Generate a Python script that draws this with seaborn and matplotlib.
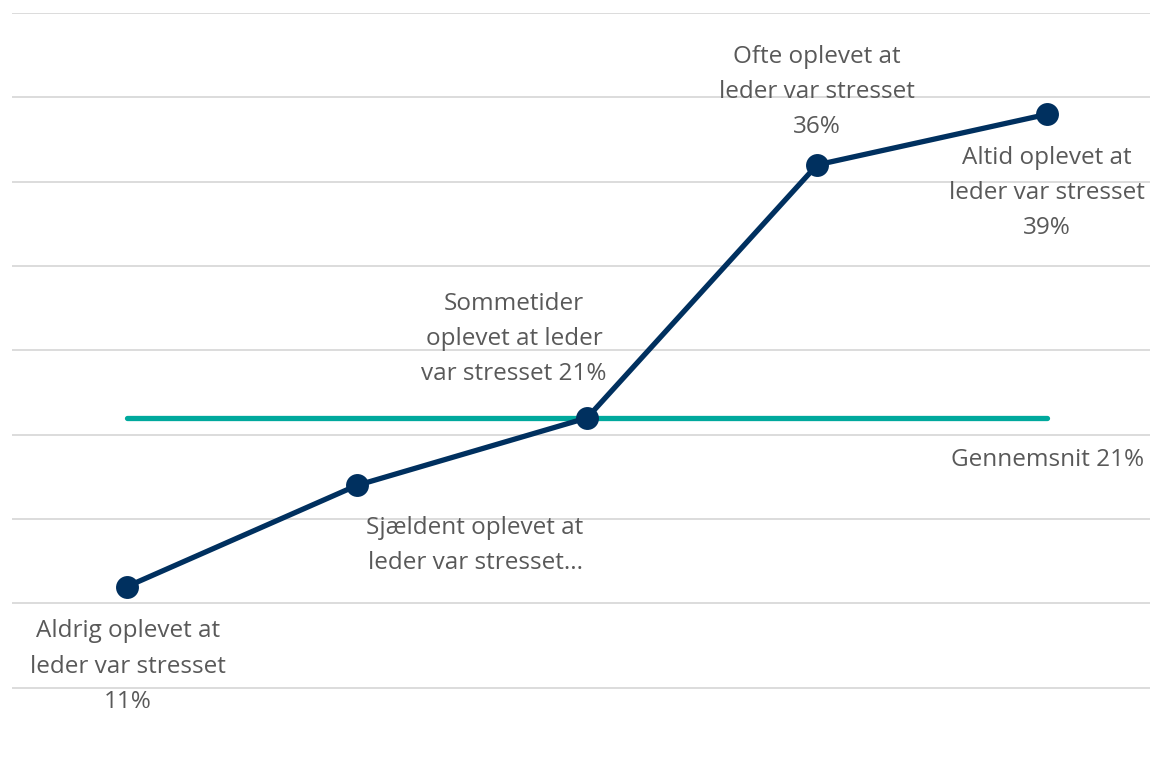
import seaborn as sns
import matplotlib.pyplot as plt
import pandas as pd

categories = ["Aldrig", "Sjældent", "Sommetider", "Ofte", "Altid"]
values = [11, 17, 21, 36, 39]
average = 21
point_labels = [
    "Aldrig oplevet at\nleder var stresset\n11%",
    "Sjældent oplevet at\nleder var stresset...",
    "Sommetider\noplevet at leder\nvar stresset 21%",
    "Ofte oplevet at\nleder var stresset\n36%",
    "Altid oplevet at\nleder var stresset\n39%",
]
avg_label = "Gennemsnit 21%"

# label offsets in pixels (dx, dy) relative to each point
label_offsets = [(1, -80), (118, -60), (-73, 79), (0, 73), (0, -79)]

NAVY = "#00305f"
TEAL = "#00a99d"
GREY = "#595959"

df = pd.DataFrame({"pos": range(len(categories)), "category": categories, "value": values})
avg_df = pd.DataFrame({"pos": [0, len(categories) - 1], "value": [average, average]})

sns.set_style("white")
plt.rcParams["font.family"] = ["Open Sans", "DejaVu Sans"]

fig = plt.figure(figsize=(11.5, 7.69), dpi=100)
ax = fig.add_axes([12 / 1150, -0.004, 1138 / 1150, 0.987])

sns.lineplot(data=avg_df, x="pos", y="value", color=TEAL, linewidth=3.8, ax=ax, zorder=2)
sns.lineplot(data=df, x="pos", y="value", color=NAVY, linewidth=3.8, marker="o",
             markersize=16.5, markeredgewidth=0, ax=ax, zorder=3)

for i, (lab, (dx, dy)) in enumerate(zip(point_labels, label_offsets)):
    ax.annotate(lab, (df["pos"][i], df["value"][i]), xytext=(dx, dy),
                textcoords="offset pixels", ha="center", va="center",
                fontsize=17.5, color=GREY, linespacing=1.62)

ax.annotate(avg_label, (avg_df["pos"].iloc[-1], average), xytext=(0, -42),
            textcoords="offset pixels", ha="center", va="center",
            fontsize=17.5, color=GREY)

ax.set_xlim(-0.5, 4.447)
ax.set_ylim(0, 45)
ax.set_yticks(range(5, 50, 5))
ax.yaxis.grid(True, color="#d9d9d9", linewidth=1.3)
ax.set_axisbelow(True)
ax.set_xticks([])
ax.tick_params(left=False, labelleft=False)
ax.set_xlabel("")
ax.set_ylabel("")
sns.despine(ax=ax, left=True, bottom=True)

fig.savefig("out.png", dpi=100)
